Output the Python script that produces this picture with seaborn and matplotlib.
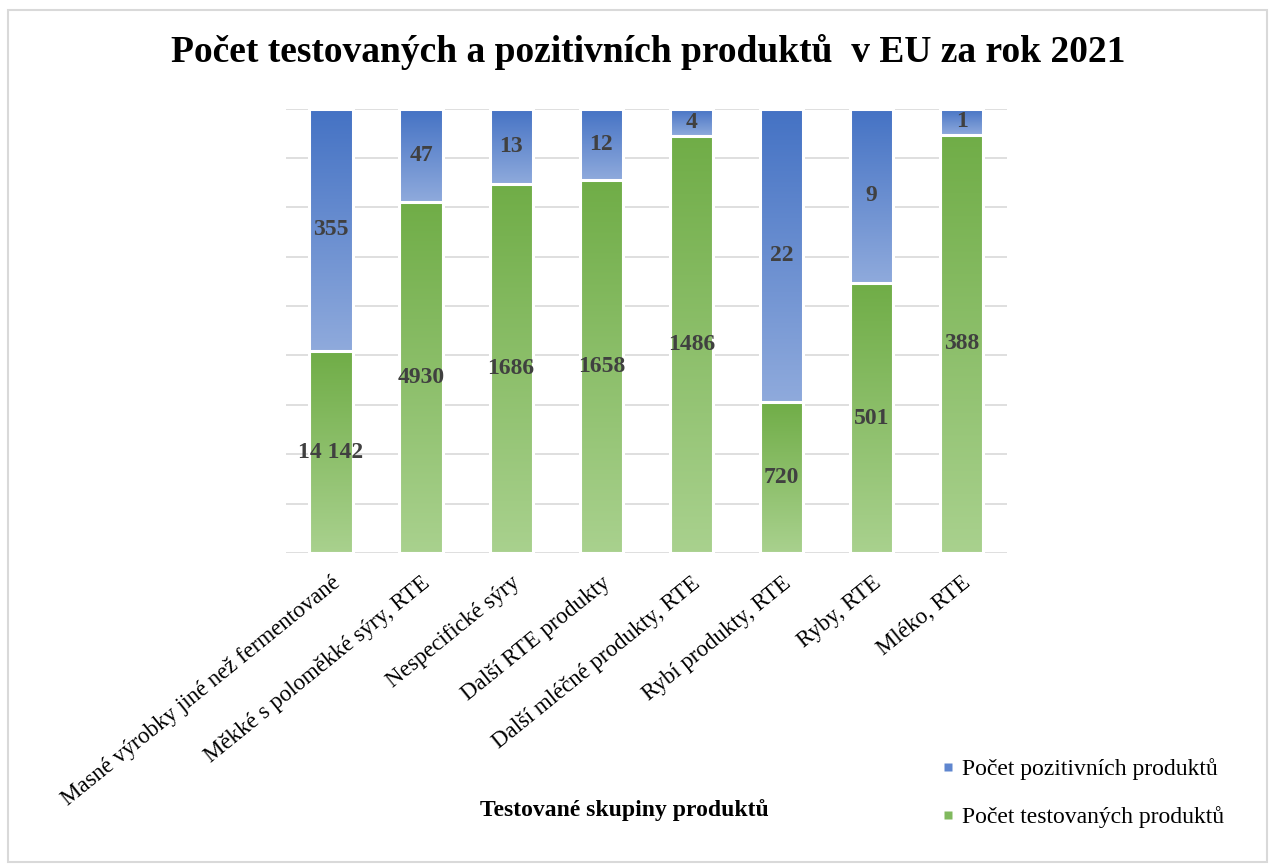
import numpy as np
import pandas as pd
import seaborn as sns
import matplotlib.pyplot as plt
from matplotlib.colors import LinearSegmentedColormap
from matplotlib.patches import Rectangle
from matplotlib.lines import Line2D

# --- data ---
categories = [
    "Masné výrobky jiné než fermentované",
    "Měkké s poloměkké sýry, RTE",
    "Nespecifické sýry",
    "Další RTE produkty",
    "Další mléčné produkty, RTE",
    "Rybí produkty, RTE",
    "Ryby, RTE",
    "Mléko, RTE",
]
tested = [14142, 4930, 1686, 1658, 1486, 720, 501, 388]
positive = [355, 47, 13, 12, 4, 22, 9, 1]
# share of the bar height taken by the green (tested) part, as drawn
tested_share = [0.454, 0.790, 0.830, 0.839, 0.939, 0.340, 0.607, 0.941]

series_names = ["Počet pozitivních produktů", "Počet testovaných produktů"]

BLUE_TOP, BLUE_BOTTOM = "#4472C4", "#8FAADC"
GREEN_TOP, GREEN_BOTTOM = "#70AD47", "#A9D18E"
LABEL_COLOR = "#404040"
BAR_W = 0.48
EDGE_W = 2.2

df = pd.DataFrame({"Skupina": categories, "share": tested_share})
df["total"] = 1.0

sns.set_theme(style="white")
plt.rcParams["font.family"] = ["Liberation Serif", "DejaVu Serif"]
plt.rcParams["text.color"] = "black"
plt.rcParams["xtick.color"] = "black"

fig = plt.figure(figsize=(12.71, 8.64), dpi=100)
ax = fig.add_axes([0.225, 0.360, 0.567, 0.5144])

sns.barplot(data=df, x="Skupina", y="total", color=BLUE_TOP, saturation=1,
            width=BAR_W, edgecolor="white", linewidth=EDGE_W, errorbar=None, ax=ax)
n_blue = len(ax.patches)
sns.barplot(data=df, x="Skupina", y="share", color=GREEN_TOP, saturation=1,
            width=BAR_W, edgecolor="white", linewidth=EDGE_W, errorbar=None, ax=ax)

blue_bars = ax.patches[:n_blue]
green_bars = ax.patches[n_blue:]


def gradient(patch, y0, y1, top, bottom):
    x0, w = patch.get_x(), patch.get_width()
    cmap = LinearSegmentedColormap.from_list("grad", [bottom, top])
    grad = np.linspace(0, 1, 256).reshape(-1, 1)
    im = ax.imshow(grad, cmap=cmap, extent=(x0, x0 + w, y0, y1),
                   origin="lower", aspect="auto", zorder=1.1)
    im.set_clip_path(patch)
    ax.add_patch(Rectangle((x0, patch.get_y()), w, patch.get_height(),
                           facecolor="none", edgecolor="white",
                           linewidth=EDGE_W, zorder=1.2))


for bar, s in zip(blue_bars, tested_share):
    gradient(bar, s, 1.0, BLUE_TOP, BLUE_BOTTOM)
for bar, s in zip(green_bars, tested_share):
    gradient(bar, 0.0, s, GREEN_TOP, GREEN_BOTTOM)


def fmt(v):
    return f"{v:,}".replace(",", " ") if v >= 10000 else str(v)


for i, (t, p, s) in enumerate(zip(tested, positive, tested_share)):
    ax.text(i, s / 2, fmt(t), ha="center", va="center", fontsize=17,
            fontweight="bold", color=LABEL_COLOR, zorder=3)
    ax.text(i, s + (1 - s) / 2, fmt(p), ha="center", va="center", fontsize=17,
            fontweight="bold", color=LABEL_COLOR, zorder=3)

ax.set_xlim(-0.5, len(categories) - 0.5)
ax.set_ylim(0, 1)
ax.set_yticks(np.linspace(0, 1, 10))
ax.yaxis.grid(True, color="#D9D9D9", linewidth=1.2)
ax.set_axisbelow(True)
ax.tick_params(axis="y", length=0, labelleft=False)
ax.tick_params(axis="x", length=0, pad=14)
ax.set_xticks(range(len(categories)))
ax.set_xticklabels(categories, rotation=39, ha="right", va="top",
                   rotation_mode="anchor", fontsize=16.5, color="black")
ax.set_xlabel("")
ax.set_ylabel("")
for sp in ax.spines.values():
    sp.set_visible(False)

fig.text(648 / 1271, 1 - 52 / 864,
         "Počet testovaných a pozitivních produktů  v EU za rok 2021",
         ha="center", va="center", fontsize=27, fontweight="bold")
fig.text(624 / 1271, 1 - 810 / 864, "Testované skupiny produktů",
         ha="center", va="center", fontsize=17, fontweight="bold")

handles = [
    Line2D([], [], marker="s", linestyle="none", markersize=6,
           markerfacecolor="#5F86CF", markeredgecolor="none"),
    Line2D([], [], marker="s", linestyle="none", markersize=6,
           markerfacecolor="#80B95E", markeredgecolor="none"),
]
fig.legend(handles, series_names, loc="center left",
           bbox_to_anchor=(942 / 1271, 1 - 793 / 864), frameon=False,
           fontsize=17, handlelength=0.5, handletextpad=0.35,
           labelspacing=1.1, borderpad=0, borderaxespad=0)

fig.patches.append(Rectangle((8 / 1271, 2 / 864), 1259 / 1271, 852 / 864,
                             transform=fig.transFigure, facecolor="none",
                             edgecolor="#D9D9D9", linewidth=1.5))

fig.savefig("out.png", dpi=100)
